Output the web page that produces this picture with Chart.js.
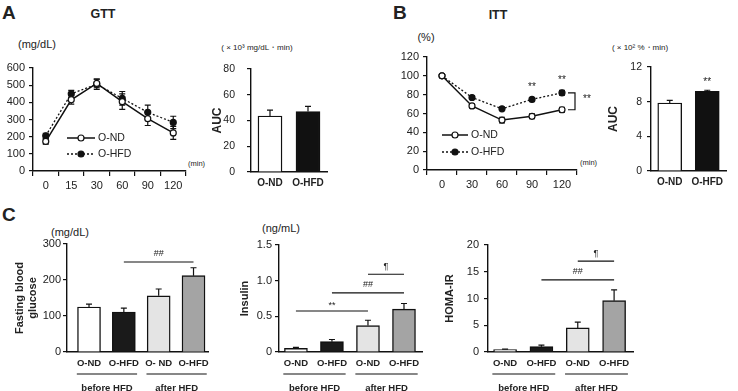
<!DOCTYPE html>
<html>
<head>
<meta charset="utf-8">
<script src="https://cdn.jsdelivr.net/npm/chart.js@4.4.1/dist/chart.umd.min.js"></script>
<style>
  body { margin: 0; width: 738px; height: 391px; position: relative; overflow: hidden; background: #fff;
         font-family: 'Liberation Sans', Arial, sans-serif; color: #222; }
  canvas { position: absolute; }
  .t { position: absolute; white-space: nowrap; line-height: 1; }
  .c { transform: translate(-50%, -50%); }
  .b { font-weight: bold; }
</style>
</head>
<body>
<span class="t b" style="left:2px;top:3px;font-size:19px">A</span>
<span class="t b c" style="left:103px;top:14px;font-size:12.5px">GTT</span>
<span class="t c" style="left:37px;top:44px;font-size:11px">(mg/dL)</span>
<span class="t c" style="left:257px;top:48px;font-size:8px">( × 10³ mg/dL・min)</span>
<span class="t" style="left:188px;top:160px;font-size:7.5px">(min)</span>

<span class="t b" style="left:393px;top:3px;font-size:19px">B</span>
<span class="t b c" style="left:498px;top:15px;font-size:12.5px">ITT</span>
<span class="t c" style="left:426px;top:37px;font-size:11px">(%)</span>
<span class="t c" style="left:640px;top:48px;font-size:8px">( × 10² %・min)</span>
<span class="t" style="left:580px;top:159px;font-size:7.5px">(min)</span>

<span class="t b" style="left:2px;top:205px;font-size:19px">C</span>
<span class="t c" style="left:70px;top:232px;font-size:11px">(mg/dL)</span>
<span class="t c" style="left:281px;top:228px;font-size:11px">(ng/mL)</span>

<script>
Chart.defaults.font.family = "'Liberation Sans', Arial, sans-serif";
Chart.defaults.color = '#222';
Chart.defaults.animation = false;
Chart.defaults.plugins.legend.display = false;
Chart.defaults.plugins.tooltip.enabled = false;

// ---- data ----
const groupNames = ['O-ND', 'O-HFD'];

// A: GTT
const gttTimes = ['0', '15', '30', '60', '90', '120'];
const gttND = [172, 415, 510, 404, 305, 222];
const gttNDErr = [15, 25, 25, 45, 40, 38];
const gttHFD = [205, 450, 505, 423, 342, 283];
const gttHFDErr = [15, 20, 30, 40, 42, 36];
const gttAuc = [43.5, 47];
const gttAucErr = [4.5, 4];

// B: ITT
const ittTimes = ['0', '30', '60', '90', '120'];
const ittND = [100, 68, 53, 57, 64];
const ittNDErr = [1, 2, 3, 2.5, 2.5];
const ittHFD = [100, 77, 65, 75, 82];
const ittHFDErr = [1, 1.5, 1.5, 2, 2.5];
const ittStarsAt = [3, 4];
const ittAuc = [7.85, 9.2];
const ittAucErr = [0.3, 0.12];

// C
const gluLabels = ['O-ND', 'O-HFD', 'O- ND', 'O-HFD'];
const cLabels = ['O-ND', 'O-HFD', 'O-ND', 'O-HFD'];
const phaseGroups = [
  { label: 'before HFD', from: 0, to: 1 },
  { label: 'after HFD', from: 2, to: 3 }
];
const cColors = ['#ffffff', '#1a1a1a', '#e4e4e4', '#a4a4a4'];
const glucose = [125, 111, 156, 212];
const glucoseErr = [8, 11, 19, 22];
const glucoseSig = [{ from: 1, to: 3, level: 250, text: '##' }];
const insulin = [0.05, 0.145, 0.37, 0.60];
const insulinErr = [0.015, 0.03, 0.075, 0.08];
const insulinSig = [
  { from: 0, to: 2, level: 0.575, text: '**' },
  { from: 1, to: 3, level: 0.83, text: '##' },
  { from: 2, to: 3, level: 1.09, text: '¶' }
];
const homa = [0.45, 1.0, 4.5, 9.6];
const homaErr = [0.1, 0.3, 1.1, 2.0];
const homaSig = [
  { from: 1, to: 3, level: 13.5, text: '##' },
  { from: 2, to: 3, level: 17, text: '¶' }
];

// ---- plugins ----
function drawErrors(chart, mode) {
  const ctx = chart.ctx, ys = chart.scales.y;
  ctx.save();
  ctx.strokeStyle = '#111';
  ctx.lineWidth = 1.2;
  chart.data.datasets.forEach((ds, di) => {
    if (!ds.errors) return;
    chart.getDatasetMeta(di).data.forEach((el, i) => {
      const raw = ds.data[i];
      const v = typeof raw === 'object' ? raw.y : raw;
      const e = ds.errors[i];
      const top = ys.getPixelForValue(v + e);
      const bot = mode === 'both' ? ys.getPixelForValue(v - e) : ys.getPixelForValue(v);
      ctx.beginPath();
      ctx.moveTo(el.x, top); ctx.lineTo(el.x, bot);
      ctx.moveTo(el.x - 3, top); ctx.lineTo(el.x + 3, top);
      if (mode === 'both') { ctx.moveTo(el.x - 3, bot); ctx.lineTo(el.x + 3, bot); }
      ctx.stroke();
    });
  });
  ctx.restore();
}
const errorBars = {
  id: 'errorBars',
  beforeDatasetsDraw(chart, args, o) { if (o.mode === 'both') drawErrors(chart, 'both'); },
  afterDatasetsDraw(chart, args, o) { if (o.mode === 'up') drawErrors(chart, 'up'); }
};

function markText(ctx, text, x, y, size) {
  ctx.font = size + "px 'Liberation Sans', Arial, sans-serif";
  ctx.textAlign = 'center';
  ctx.textBaseline = 'middle';
  ctx.fillText(text, x, y + (text === '**' ? 2.5 : 0));
}

const sigMarks = {
  id: 'sigMarks',
  afterDatasetsDraw(chart, args, o) {
    const ctx = chart.ctx, xs = chart.scales.x, ys = chart.scales.y;
    ctx.save();
    ctx.strokeStyle = '#111';
    ctx.fillStyle = '#222';
    ctx.lineWidth = 1.2;
    (o.spans || []).forEach(s => {
      const x1 = xs.getPixelForValue(s.from), x2 = xs.getPixelForValue(s.to), y = ys.getPixelForValue(s.level);
      ctx.beginPath(); ctx.moveTo(x1, y); ctx.lineTo(x2, y); ctx.stroke();
      markText(ctx, s.text, (x1 + x2) / 2, y - 8, 9);
    });
    (o.stars || []).forEach(s => {
      markText(ctx, s.text, xs.getPixelForValue(s.at), ys.getPixelForValue(s.value) - o.starGap, 10);
    });
    (o.brackets || []).forEach(b => {
      const x = xs.getPixelForValue(b.at) + 6, y1 = ys.getPixelForValue(b.high), y2 = ys.getPixelForValue(b.low);
      ctx.beginPath();
      ctx.moveTo(x, y1); ctx.lineTo(x + 7, y1); ctx.lineTo(x + 7, y2); ctx.lineTo(x, y2);
      ctx.stroke();
      markText(ctx, b.text, x + 19, (y1 + y2) / 2 - 5, 10);
    });
    ctx.restore();
  }
};

const lineKey = {
  id: 'lineKey',
  afterDraw(chart, args, o) {
    const { ctx, chartArea } = chart;
    ctx.save();
    chart.data.datasets.forEach((ds, i) => {
      const y = chartArea.top + o.top + i * o.gap;
      const x0 = chartArea.left + o.left, x1 = x0 + o.len;
      ctx.strokeStyle = ds.borderColor;
      ctx.lineWidth = ds.borderWidth;
      ctx.setLineDash(ds.borderDash || []);
      ctx.beginPath(); ctx.moveTo(x0, y); ctx.lineTo(x1, y); ctx.stroke();
      ctx.setLineDash([]);
      ctx.lineWidth = 1.2;
      ctx.fillStyle = ds.pointBackgroundColor;
      ctx.beginPath(); ctx.arc((x0 + x1) / 2, y, ds.pointRadius, 0, Math.PI * 2); ctx.fill(); ctx.stroke();
      ctx.fillStyle = '#222';
      ctx.font = "10.5px 'Liberation Sans', Arial, sans-serif";
      ctx.textAlign = 'left';
      ctx.textBaseline = 'middle';
      ctx.fillText(ds.label, x1 + 3, y);
    });
    ctx.restore();
  }
};

const groupLabels = {
  id: 'groupLabels',
  afterDraw(chart, args, o) {
    const { ctx, chartArea } = chart, xs = chart.scales.x;
    ctx.save();
    ctx.strokeStyle = '#111';
    ctx.fillStyle = '#222';
    ctx.lineWidth = 1.2;
    ctx.font = "bold 9.5px 'Liberation Sans', Arial, sans-serif";
    ctx.textAlign = 'center';
    ctx.textBaseline = 'middle';
    o.groups.forEach(g => {
      const x1 = xs.getPixelForValue(g.from - 0.35), x2 = xs.getPixelForValue(g.to + 0.38);
      const y = chartArea.bottom + 22;
      ctx.beginPath(); ctx.moveTo(x1, y); ctx.lineTo(x2, y); ctx.stroke();
      ctx.fillText(g.label, (x1 + x2) / 2, y + 14);
    });
    ctx.restore();
  }
};

// ---- helpers ----
function makeChart(box, area, config) {
  const cv = document.createElement('canvas');
  cv.width = box.w; cv.height = box.h;
  cv.style.left = box.x + 'px'; cv.style.top = box.y + 'px';
  cv.style.width = box.w + 'px'; cv.style.height = box.h + 'px';
  document.body.appendChild(cv);
  const o = config.options;
  o.responsive = false;
  o.devicePixelRatio = 1;
  o.layout = { padding: { left: 0, bottom: 0, top: area.t - box.y, right: box.x + box.w - area.r } };
  o.scales.x.afterFit = s => { s.height = box.y + box.h - area.b; };
  o.scales.y.afterFit = s => { s.width = area.l - box.x; };
  return new Chart(cv.getContext('2d'), config);
}

function yAxis(max, step, size, pad, title) {
  const ax = {
    min: 0, max: max,
    ticks: { stepSize: step, padding: pad, font: { size: size }, color: '#222' },
    grid: { drawOnChartArea: false, tickLength: 4, color: '#111', lineWidth: 1.2 },
    border: { color: '#111', width: 1.4 }
  };
  if (title) ax.title = title;
  return ax;
}
function yTitle(text, size, pad) {
  return { display: true, text: text, font: { size: size, weight: 'bold' }, color: '#222', padding: { top: pad, bottom: 0 } };
}

const flatTicks = { maxRotation: 0, minRotation: 0, autoSkip: false };

function timeAxis() {
  return {
    offset: true,
    ticks: Object.assign({ padding: 3, font: { size: 11 }, color: '#222' }, flatTicks),
    grid: { offset: true, drawOnChartArea: false, tickLength: 5, color: '#111', lineWidth: 1.2 },
    border: { color: '#111', width: 1.4 }
  };
}
function groupAxis() {
  return {
    offset: true,
    ticks: Object.assign({ padding: 5, font: { size: 10, weight: 'bold' }, color: '#222' }, flatTicks),
    grid: { display: false, drawTicks: false },
    border: { color: '#111', width: 1.4 }
  };
}
function phaseAxis(labels, min, max) {
  return {
    type: 'linear', min: min, max: max, bounds: 'data', offset: false,
    afterBuildTicks: s => { s.ticks = labels.map((_, i) => ({ value: i })); },
    ticks: Object.assign({ padding: 6, font: { size: 9.5, weight: 'bold' }, color: '#222', callback: v => labels[v] }, flatTicks),
    grid: { display: false, drawTicks: false },
    border: { color: '#111', width: 1.4 }
  };
}

function lineSets(nd, ndErr, hfd, hfdErr) {
  return [
    { label: groupNames[0], data: nd, errors: ndErr, borderColor: '#111', borderWidth: 1.5,
      pointRadius: 3, pointBackgroundColor: '#fff', pointBorderColor: '#111', pointBorderWidth: 1.2 },
    { label: groupNames[1], data: hfd, errors: hfdErr, borderColor: '#111', borderWidth: 1.3, borderDash: [2, 2],
      pointRadius: 3, pointBackgroundColor: '#111', pointBorderColor: '#111', pointBorderWidth: 1.2 }
  ];
}
function aucSet(values, errs) {
  return [{ data: values, errors: errs, backgroundColor: ['#fff', '#111'], borderColor: '#111',
            borderWidth: 1.4, barThickness: 24 }];
}
function phaseSet(values, errs) {
  return [{ data: values.map((v, i) => ({ x: i, y: v })), errors: errs, backgroundColor: cColors,
            borderColor: '#111', borderWidth: 1.4, barThickness: 23 }];
}

// ---- A: GTT ----
makeChart({ x: 0, y: 30, w: 235, h: 170 }, { l: 33, t: 68, r: 186, b: 171 }, {
  type: 'line',
  data: { labels: gttTimes, datasets: lineSets(gttND, gttNDErr, gttHFD, gttHFDErr) },
  options: {
    scales: { x: timeAxis(), y: yAxis(600, 100, 11, 4) },
    plugins: { errorBars: { mode: 'both' }, lineKey: { left: 34, top: 70, gap: 16, len: 28 } }
  },
  plugins: [errorBars, lineKey]
});

makeChart({ x: 200, y: 30, w: 135, h: 170 }, { l: 251, t: 69, r: 327, b: 172 }, {
  type: 'bar',
  data: { labels: groupNames, datasets: aucSet(gttAuc, gttAucErr) },
  options: {
    scales: { x: groupAxis(), y: yAxis(80, 20, 10.5, 12, yTitle('AUC', 12, 10)) },
    plugins: { errorBars: { mode: 'up' } }
  },
  plugins: [errorBars]
});

// ---- B: ITT ----
makeChart({ x: 385, y: 30, w: 230, h: 170 }, { l: 427, t: 57, r: 577, b: 170 }, {
  type: 'line',
  data: { labels: ittTimes, datasets: lineSets(ittND, ittNDErr, ittHFD, ittHFDErr) },
  options: {
    scales: { x: timeAxis(), y: yAxis(120, 20, 11, 4) },
    plugins: {
      errorBars: { mode: 'both' },
      lineKey: { left: 15, top: 78, gap: 17, len: 26 },
      sigMarks: {
        starGap: 13,
        stars: ittStarsAt.map(i => ({ at: i, value: ittHFD[i] + ittHFDErr[i], text: '**' })),
        brackets: [{ at: 4, high: ittHFD[4], low: ittND[4], text: '**' }]
      }
    }
  },
  plugins: [errorBars, lineKey, sigMarks]
});

makeChart({ x: 600, y: 30, w: 138, h: 170 }, { l: 651, t: 67, r: 726, b: 171 }, {
  type: 'bar',
  data: { labels: groupNames, datasets: aucSet(ittAuc, ittAucErr) },
  options: {
    scales: { x: groupAxis(), y: yAxis(12, 4, 10.5, 5, yTitle('AUC', 12, 6)) },
    plugins: {
      errorBars: { mode: 'up' },
      sigMarks: { starGap: 10, stars: [{ at: 1, value: ittAuc[1] + ittAucErr[1], text: '**' }] }
    }
  },
  plugins: [errorBars, sigMarks]
});

// ---- C ----
makeChart({ x: 0, y: 225, w: 232, h: 166 }, { l: 67, t: 244, r: 208, b: 352 }, {
  type: 'bar',
  data: { datasets: phaseSet(glucose, glucoseErr) },
  options: {
    scales: { x: phaseAxis(gluLabels, -0.632, 3.416),
              y: yAxis(300, 100, 11, 2, yTitle(['Fasting blood', 'glucose'], 11, 13)) },
    plugins: { errorBars: { mode: 'up' }, sigMarks: { spans: glucoseSig }, groupLabels: { groups: phaseGroups } }
  },
  plugins: [errorBars, sigMarks, groupLabels]
});

makeChart({ x: 232, y: 225, w: 210, h: 166 }, { l: 279, t: 245, r: 422, b: 352 }, {
  type: 'bar',
  data: { datasets: phaseSet(insulin, insulinErr) },
  options: {
    scales: { x: phaseAxis(cLabels, -0.47, 3.5),
              y: yAxis(1.5, 0.5, 11, 3, yTitle('Insulin', 11, 6)) },
    plugins: { errorBars: { mode: 'up' }, sigMarks: { spans: insulinSig }, groupLabels: { groups: phaseGroups } }
  },
  plugins: [errorBars, sigMarks, groupLabels]
});

makeChart({ x: 430, y: 225, w: 240, h: 166 }, { l: 488, t: 245, r: 633, b: 352 }, {
  type: 'bar',
  data: { datasets: phaseSet(homa, homaErr) },
  options: {
    scales: { x: phaseAxis(cLabels, -0.47, 3.52),
              y: yAxis(20, 5, 11, 5, yTitle('HOMA-IR', 11, 13)) },
    plugins: { errorBars: { mode: 'up' }, sigMarks: { spans: homaSig }, groupLabels: { groups: phaseGroups } }
  },
  plugins: [errorBars, sigMarks, groupLabels]
});
</script>
</body>
</html>
